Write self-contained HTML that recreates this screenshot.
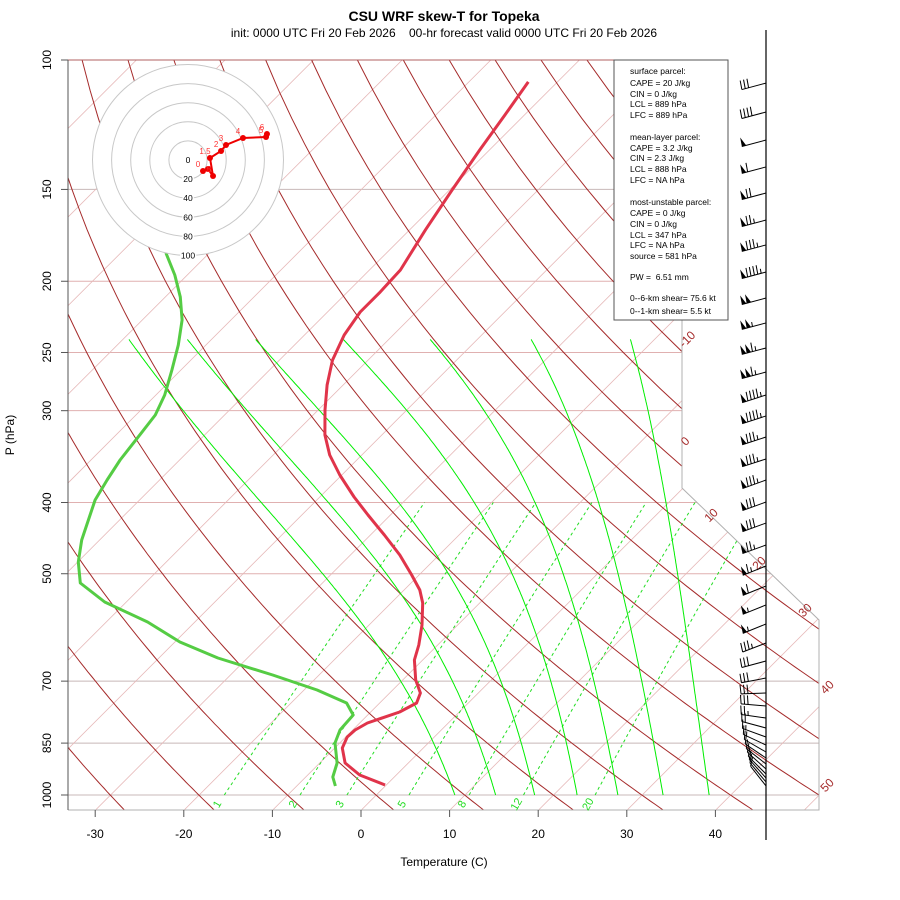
<!DOCTYPE html>
<html><head><meta charset="utf-8"><title>CSU WRF skew-T for Topeka</title>
<style>
html,body{margin:0;padding:0;background:#fff;}
svg{display:block;font-family:"Liberation Sans",Arial,sans-serif;}
</style></head>
<body>
<svg id="chart" width="900" height="900" viewBox="0 0 900 900" xmlns="http://www.w3.org/2000/svg">
  <defs>
    <clipPath id="frameClip"><polygon points="68,60 682,60 682,488 819,620 819,810 68,810"/></clipPath>
  </defs>
  <text x="444" y="21" text-anchor="middle" font-size="14" font-weight="bold">CSU WRF skew-T for Topeka</text>
  <text x="444" y="37" text-anchor="middle" font-size="12" xml:space="preserve">init: 0000 UTC Fri 20 Feb 2026    00-hr forecast valid 0000 UTC Fri 20 Feb 2026</text>
  <g id="bg" clip-path="url(#frameClip)"></g>
  <polyline points="68,60 682,60 682,488 819,620 819,810 68,810" fill="none" stroke="#b0b0b0" stroke-width="1"/>
  <line x1="68" y1="60" x2="682" y2="60" stroke="#b06060" stroke-width="1"/>
  <g id="labels"></g>
  <g id="profiles"></g>
  <g id="axes"></g>
  <g id="hodo"></g>
  <g id="barbs"></g>
  <g id="legend">
    <rect x="614" y="60" width="114" height="260" fill="#fff" stroke="#555" stroke-width="1"/>
    <g font-size="8.5" fill="#000">
      <text x="630" y="74">surface parcel:</text>
      <text x="630" y="86">CAPE = 20 J/kg</text>
      <text x="630" y="97">CIN = 0 J/kg</text>
      <text x="630" y="107">LCL = 889 hPa</text>
      <text x="630" y="118">LFC = 889 hPa</text>
      <text x="630" y="140">mean-layer parcel:</text>
      <text x="630" y="151">CAPE = 3.2 J/kg</text>
      <text x="630" y="161">CIN = 2.3 J/kg</text>
      <text x="630" y="172">LCL = 888 hPa</text>
      <text x="630" y="183">LFC = NA hPa</text>
      <text x="630" y="205">most-unstable parcel:</text>
      <text x="630" y="216">CAPE = 0 J/kg</text>
      <text x="630" y="227">CIN = 0 J/kg</text>
      <text x="630" y="238">LCL = 347 hPa</text>
      <text x="630" y="248">LFC = NA hPa</text>
      <text x="630" y="259">source = 581 hPa</text>
      <text x="630" y="280" xml:space="preserve">PW =  6.51 mm</text>
      <text x="630" y="301">0--6-km shear= 75.6 kt</text>
      <text x="630" y="314">0--1-km shear= 5.5 kt</text>
    </g>
  </g>
</svg>
<script>
// ---- data ----
const tempP = [107.1,118.8,132.6,150.3,170.3,193.1,206.8,220.2,236.7,256.0,276.8,299.4,323.7,344.7,367.0,393.2,416.0,442.9,471.5,502.0,526.1,548.0,587.1,625.1,655.2,697.5,726.5,749.6,771.1,798.1,815.8,833.9,863.2,904.7,939.3,969.2];
const tempC = [-63.3,-62.2,-61.1,-59.7,-58.2,-56.5,-56.3,-56.3,-55.5,-54.0,-51.8,-49.2,-46.4,-43.6,-40.2,-36.1,-32.5,-28.4,-24.4,-20.8,-18.2,-16.4,-14.0,-12.1,-10.9,-8.5,-6.5,-5.8,-6.7,-9.1,-9.7,-9.8,-9.1,-7.1,-4.1,-0.1];
const dewP = [183.0,196.1,210.1,225.8,244.2,264.1,285.6,304.1,323.7,350.1,372.8,396.9,422.5,449.8,481.9,514.8,546.3,581.7,619.3,651.1,686.7,719.8,749.6,778.4,815.8,849.7,904.7,945.3,972.2];
const dewC = [-84.9,-81.4,-78.3,-75.5,-73.1,-71.0,-69.0,-67.8,-67.3,-66.7,-65.9,-65.0,-63.5,-62.0,-59.9,-57.3,-52.4,-45.3,-39.4,-33.3,-25.2,-18.5,-13.7,-11.6,-11.4,-10.5,-8.0,-6.9,-5.6];
const barbP = [107.5,117.7,128.5,139.8,151.7,165.1,178.5,194.3,210.8,227.9,246.5,265.8,285.6,305.0,325.8,349.0,372.8,399.4,426.6,457.0,488.0,519.6,551.4,585.3,621.2,657.2,693.2,726.5,756.7,785.7,810.7,833.9,855.1,874.0,890.6,907.4,921.8,936.4,948.2,960.1,972.2];
const barbSpd = [30,40,50,60,70,75,85,95,100,105,115,115,95,95,85,85,85,80,80,75,65,60,55,55,35,30,30,30,30,25,20,15,15,10,10,10,10,10,10,10,10];
const barbDir = [255,255,255,255,255,255,255,255,255,255,255,255,252,252,252,252,250,250,250,250,248,248,248,248,249,255,259,268,275,278,285,290,295,300,304,308,312,315,318,320,322];
const hodoU = [15.7,20.9,26.2,23.0,34.6,39.8,57.6,81.7,82.7];
const hodoV = [-11.5,-9.4,-16.8,2.1,9.4,15.7,23.0,24.1,27.2];
const hodoLbl = ["0","",".5","1.5","2","3","4","5","6"];
const pTicks = [100,150,200,250,300,400,500,700,850,1000];
const tTicks = [-30,-20,-10,0,10,20,30,40];
const isoLabels = [-10,0,10,20,30,40,50];
const mixRatios = [1,2,3,5,8,12,20];
const moistBottomT = [8.9,13.5,17.9,22.7,27.3,32.4,37.6];
const moistTopT = [-79.3,-72.7,-65.0,-55.1,-45.3,-33.9,-22.7];
const hodoRings = [20,40,60,80,100];

// ---- scales ----
const NS = "http://www.w3.org/2000/svg";
function yP(p){ return 60 + 319.2*Math.log(p/100); }
function xT(T,p){ return 361 + 8.86*T + (810 - yP(p)); }
function mk(tag, attrs, parent){ const e=document.createElementNS(NS,tag); for(const k in attrs) e.setAttribute(k,attrs[k]); parent.appendChild(e); return e; }
function pathFrom(pts){ return pts.map((q,i)=>(i?"L":"M")+q[0].toFixed(1)+","+q[1].toFixed(1)).join(""); }
const bg=document.getElementById("bg"), labels=document.getElementById("labels"), prof=document.getElementById("profiles"), axes=document.getElementById("axes"), hodo=document.getElementById("hodo"), barbs=document.getElementById("barbs");

// pressure lines
pTicks.forEach(p=>{
  const l=mk("line",{x1:68,x2:830,y1:yP(p),y2:yP(p),stroke:(p==150||p==700||p==850||p==1000)?"#c8b8b8":"#e0b0b0","stroke-width":1},bg);
  
  
});
// isotherms
for(let T=-130;T<=60;T+=10){
  const l=mk("line",{x1:xT(T,1047),y1:810,x2:xT(T,100),y2:60,stroke:"#e6b8b8","stroke-width":0.8},bg);
  
  
}
// dry adiabats
for(let th=-30;th<=200;th+=10){
  const pts=[]; for(let p=1050;p>=100;p-=10){ const T=(th+273.15)*Math.pow(p/1000,0.2857)-273.15; pts.push([xT(T,p),yP(p)]); }
  const e=mk("path",{d:pathFrom(pts),fill:"none",stroke:"#a52a2a","stroke-width":1},bg);
  
  
}
// mixing ratio lines
function tdFromE(e){ const a=Math.log(e/6.112); return 243.5*a/(17.67-a); }
mixRatios.forEach(w=>{
  const pts=[]; for(let p=1000;p>=400;p-=10){ const r=w/1000; const e=r*p/(0.622+r); pts.push([xT(tdFromE(e),p),yP(p)]); }
  const e=mk("path",{d:pathFrom(pts),fill:"none",stroke:"#22dd22","stroke-width":1,"stroke-dasharray":"3,3"},bg);
  
  
  const r=w/1000, ee=r*1000/(0.622+r);
  const t=mk("text",{x:xT(tdFromE(ee),1000)-4,y:806,"font-size":11,fill:"#22dd22","text-anchor":"middle",transform:"rotate(-60 "+(xT(tdFromE(ee),1000)-4)+" 806)"},labels);
  t.textContent=w;
  
  
});
// moist adiabats
function es(Tc){ return 6.112*Math.exp(17.67*Tc/(Tc+243.5)); }
function moist(T0){ const out=[]; let T=T0+273.15, lp=Math.log(1000); const lpEnd=Math.log(240); const n=300, d=(lpEnd-lp)/n;
  for(let i=0;i<=n;i++){ const p=Math.exp(lp); out.push([p,T-273.15]); const e=es(T-273.15), rs=0.622*e/(p-e);
    const dT=(287*T+2.5e6*rs)/(1004+2.5e6*2.5e6*rs*0.622/(287*T*T)); T+=dT*d; lp+=d; }
  return out; }
moistBottomT.forEach((T0,i)=>{
  const c=moist(T0); const k=c[c.length-1][1]-moistTopT[i]; const L=Math.log(1000/240);
  const pts=c.map(q=>{ const f=Math.log(1000/q[0])/L; const T=q[1]-k*f; return [xT(T,q[0]),yP(q[0])]; });
  const e=mk("path",{d:pathFrom(pts),fill:"none",stroke:"#00ee00","stroke-width":1},bg);
  
  
});
// isotherm labels
const isoPos=[[690,342],[688,444],[714,518],[762,566],[808,613],[830,690],[830,788]];
isoLabels.forEach((v,i)=>{
  const t=mk("text",{x:isoPos[i][0],y:isoPos[i][1],"font-size":12,fill:"#a52a2a","text-anchor":"middle",transform:"rotate(-45 "+isoPos[i][0]+" "+isoPos[i][1]+")"},labels);
  t.textContent=v;
  
  
});

// profiles
const dp=mk("path",{d:pathFrom(dewP.map((p,i)=>[xT(dewC[i],p),yP(p)])),fill:"none",stroke:"#55cc44","stroke-width":3,"stroke-linejoin":"round"},prof);


const tp=mk("path",{d:pathFrom(tempP.map((p,i)=>[xT(tempC[i],p),yP(p)])),fill:"none",stroke:"#e0344a","stroke-width":3,"stroke-linejoin":"round"},prof);



// axes
const ya=mk("line",{x1:68,y1:60,x2:68,y2:810,stroke:"#555","stroke-width":1},axes);


pTicks.forEach(p=>{
  const y=yP(p);
  const tk=mk("line",{x1:61,x2:68,y1:y,y2:y,stroke:"#555"},axes);
  
  
  const t=mk("text",{x:51,y:y,"font-size":12,"text-anchor":"middle",transform:"rotate(-90 51 "+y+")"},axes);
  t.textContent=p;
  
  
});
tTicks.forEach(T=>{
  const x=361+8.86*T;
  const tk=mk("line",{x1:x,x2:x,y1:810,y2:817,stroke:"#555"},axes);
  
  
  const t=mk("text",{x:x,y:838,"font-size":12,"text-anchor":"middle"},axes);
  t.textContent=T;
  
  
});
const xt=mk("text",{x:444,y:866,"font-size":12,"text-anchor":"middle"},axes); xt.textContent="Temperature (C)";


const yt=mk("text",{x:14,y:435,"font-size":12,"text-anchor":"middle",transform:"rotate(-90 14 435)"},axes); yt.textContent="P (hPa)";



// hodograph
const hc=[188,160], hs=0.955;
for(let i=hodoRings.length-1;i>=0;i--){
  const c=mk("circle",{cx:hc[0],cy:hc[1],r:hodoRings[i]*hs,fill:"#fff",stroke:"#c8c8c8","stroke-width":1},hodo);
  
  
}
const zl=mk("text",{x:hc[0],y:hc[1]+3,"font-size":8.5,"text-anchor":"middle"},hodo); zl.textContent="0";


hodoRings.forEach(r=>{
  const t=mk("text",{x:hc[0],y:hc[1]+r*hs+3,"font-size":8.5,"text-anchor":"middle",stroke:"#fff","stroke-width":3,"paint-order":"stroke"},hodo);
  t.textContent=r;
  
  
});
const hpts=hodoU.map((u,i)=>[hc[0]+u*hs,hc[1]-hodoV[i]*hs]);
const hl=mk("path",{d:pathFrom(hpts),fill:"none",stroke:"#ee0000","stroke-width":2},hodo);


hpts.forEach((q,i)=>{
  const c=mk("circle",{cx:q[0],cy:q[1],r:3,fill:"#ee0000"},hodo);
  
  
  if(hodoLbl[i]){
    const t=mk("text",{x:q[0]-5,y:q[1]-4,"font-size":8,fill:"#ff3333","text-anchor":"middle"},hodo);
    t.textContent=hodoLbl[i];
    
    
  }
});

// wind barbs
const staff=mk("line",{x1:766,y1:30,x2:766,y2:840,stroke:"#000","stroke-width":1.2},barbs);


barbP.forEach((p,i)=>{
  const y=yP(p), a=barbDir[i]*Math.PI/180, ux=Math.sin(a), uy=-Math.cos(a);
  const L=25, ex=766+L*ux, ey=y+L*uy;
  const g=mk("g",{},barbs);
  
  
  mk("line",{x1:766,y1:y,x2:ex,y2:ey,stroke:"#000","stroke-width":1},g);
  const px=-uy*0.35+0.1*ux, py=-1;
  let s=barbSpd[i], pos=0;
  const nP=Math.floor(s/50); s-=nP*50; const nF=Math.floor(s/10); s-=nF*10; const nH=s>=5?1:0;
  for(let k=0;k<nP;k++){ const bx=ex-ux*pos, by=ey-uy*pos; const cx=ex-ux*(pos+4.5), cy=ey-uy*(pos+4.5);
    mk("polygon",{points:bx+","+by+" "+(bx+px*9)+","+(by+py*9)+" "+cx+","+cy,fill:"#000"},g); pos+=5; }
  if(nP) pos+=1;
  for(let k=0;k<nF;k++){ const bx=ex-ux*pos, by=ey-uy*pos; mk("line",{x1:bx,y1:by,x2:bx+px*9,y2:by+py*9,stroke:"#000","stroke-width":1},g); pos+=3.5; }
  if(nH){ if(!nP&&!nF) pos=3.5; const bx=ex-ux*pos, by=ey-uy*pos; mk("line",{x1:bx,y1:by,x2:bx+px*4.5,y2:by+py*4.5,stroke:"#000","stroke-width":1},g); }
});
</script>
</body></html>
